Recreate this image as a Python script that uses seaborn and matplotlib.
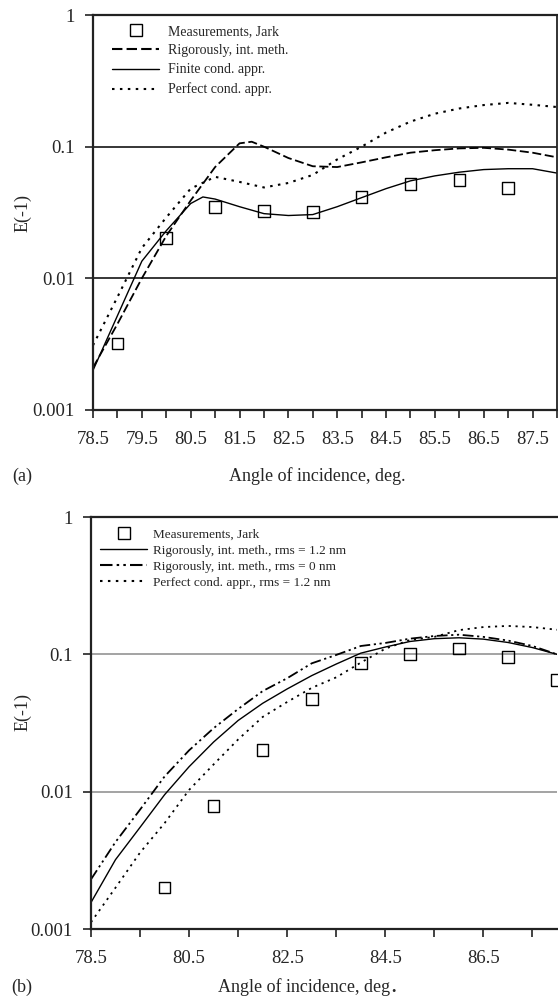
import numpy as np
import pandas as pd
import matplotlib
matplotlib.use('Agg')
import matplotlib.pyplot as plt
from matplotlib.lines import Line2D
import seaborn as sns

# ---- panel (a) data ----
angle = [78.5, 79.0, 79.5, 80.0, 80.5, 81.0, 81.5, 82.0, 82.5, 83.0,
         83.5, 84.0, 84.5, 85.0, 85.5, 86.0, 86.5, 87.0, 87.5, 88.0]

a_meas_x = [79, 80, 81, 82, 83, 84, 85, 86, 87]
a_meas_y = [0.0032, 0.0203, 0.0348, 0.0325, 0.0318, 0.0415, 0.052, 0.0558, 0.0486]

a_rig_x = [78.5, 79.0, 79.5, 80.0, 80.5, 81.0, 81.5, 81.75, 82.0, 82.5, 83.0,
           83.5, 84.0, 84.5, 85.0, 85.5, 86.0, 86.5, 87.0, 87.5, 88.0]
a_rig_y = [0.0021, 0.0045, 0.010, 0.021, 0.039, 0.070, 0.106, 0.109, 0.100, 0.082, 0.071,
           0.070, 0.076, 0.083, 0.090, 0.094, 0.097, 0.098, 0.095, 0.090, 0.083]

a_fin_x = [78.5, 79.0, 79.5, 80.0, 80.5, 80.75, 81.0, 81.5, 82.0, 82.5, 83.0,
           83.5, 84.0, 84.5, 85.0, 85.5, 86.0, 86.5, 87.0, 87.5, 88.0]
a_fin_y = [0.0020, 0.0052, 0.0135, 0.023, 0.037, 0.0415, 0.040, 0.035, 0.031, 0.030, 0.0305,
           0.035, 0.041, 0.048, 0.055, 0.060, 0.064, 0.067, 0.068, 0.068, 0.063]

a_per_y = [0.0031, 0.0072, 0.017, 0.029, 0.048, 0.059, 0.054, 0.049, 0.053, 0.061,
           0.080, 0.100, 0.128, 0.155, 0.178, 0.195, 0.207, 0.215, 0.208, 0.200]

# ---- panel (b) data ----
b_meas_x = [80, 81, 82, 83, 84, 85, 86, 87, 88]
b_meas_y = [0.0020, 0.0079, 0.0202, 0.0475, 0.0867, 0.101, 0.110, 0.096, 0.065]

b_rig12_y = [0.00156, 0.0032, 0.0055, 0.0095, 0.0152, 0.023, 0.033, 0.044, 0.056, 0.070,
             0.085, 0.102, 0.113, 0.124, 0.130, 0.132, 0.129, 0.122, 0.112, 0.100]
b_rig0_y = [0.0023, 0.0043, 0.0074, 0.0129, 0.020, 0.029, 0.040, 0.054, 0.067, 0.086,
            0.099, 0.115, 0.121, 0.130, 0.136, 0.139, 0.134, 0.126, 0.115, 0.100]
b_per_y = [0.00112, 0.0020, 0.0036, 0.0059, 0.0103, 0.0158, 0.024, 0.035, 0.045, 0.057,
           0.068, 0.087, 0.110, 0.127, 0.134, 0.150, 0.158, 0.161, 0.158, 0.151]

a_labels = ['Measurements, Jark', 'Rigorously, int. meth.', 'Finite cond. appr.', 'Perfect cond. appr.']
b_labels = ['Measurements, Jark', 'Rigorously, int. meth., rms = 1.2 nm',
            'Rigorously, int. meth., rms = 0 nm', 'Perfect cond. appr., rms = 1.2 nm']

sns.set_style('white')
plt.rcParams['font.family'] = ['Liberation Serif', 'DejaVu Serif']
plt.rcParams['axes.unicode_minus'] = False

DASHED = (0, (5, 2))
DOTTED = (0, (1.2, 2.6))
DASHDOTDOT = (0, (6, 2, 1.2, 2, 1.2, 2))

fig = plt.figure(figsize=(5.58, 9.99), dpi=100)
ax_a = fig.add_axes([93/558, 1 - 410/999, 464/558, 395/999])
ax_b = fig.add_axes([91/558, 1 - 929/999, 466/558, 412/999])


def style_axes(ax, grid_color, xticks, xlabels):
    ax.set_yscale('log')
    ax.set_ylim(0.001, 1)
    ax.set_xlim(78.5, 88.0)
    ax.set_yticks([0.001, 0.01, 0.1, 1])
    ax.set_yticklabels(['0.001', '0.01', '0.1', '1'])
    ax.yaxis.set_minor_locator(matplotlib.ticker.NullLocator())
    ax.set_xticks(xticks)
    ax.set_xticklabels(xlabels)
    for yv in [0.01, 0.1]:
        ax.axhline(yv, color=grid_color, lw=1.1, zorder=0)
    ax.tick_params(axis='x', direction='out', length=6, width=1.2, pad=9,
                   labelsize=13.5, bottom=True, color='#222222')
    ax.tick_params(axis='y', direction='out', length=6, width=1.2, pad=7,
                   labelsize=13.5, left=True, color='#222222')
    for s in ['left', 'bottom', 'top']:
        ax.spines[s].set_linewidth(1.6)
        ax.spines[s].set_color('#222222')
    ax.set_xlabel('')
    ax.set_ylabel('')


# ---- panel (a) ----
sns.lineplot(x=a_rig_x, y=a_rig_y, ax=ax_a, color='black', lw=1.3, linestyle=DASHED)
sns.lineplot(x=a_fin_x, y=a_fin_y, ax=ax_a, color='black', lw=1.0)
sns.lineplot(x=angle, y=a_per_y, ax=ax_a, color='black', lw=1.5, linestyle=DOTTED)
sns.scatterplot(x=a_meas_x, y=a_meas_y, ax=ax_a, marker='s', s=70,
                facecolor='none', edgecolor='black', linewidth=1.0, zorder=5)

xt_a = list(np.arange(78.5, 88.01, 0.5))
xl_a = ['%.1f' % v if (v - 78.5) % 1 == 0 else '' for v in xt_a]
style_axes(ax_a, 'black', xt_a, xl_a)
ax_a.spines['right'].set_linewidth(1.3)
ax_a.spines['right'].set_color('#222222')

h_a = [Line2D([0], [0], marker='s', linestyle='none', mfc='none', mec='black', ms=8.5, mew=1.0),
       Line2D([0], [0], color='black', lw=1.5, linestyle=DASHED),
       Line2D([0], [0], color='black', lw=1.0),
       Line2D([0], [0], color='black', lw=1.5, linestyle=DOTTED)]
ax_a.legend(h_a, a_labels, loc='upper left', bbox_to_anchor=(0.041, 0.975), frameon=False,
            borderaxespad=0, borderpad=0, handlelength=3.4, handletextpad=0.6,
            labelspacing=0.45, fontsize=10)

# ---- panel (b) ----
sns.lineplot(x=angle, y=b_rig12_y, ax=ax_b, color='black', lw=1.0)
sns.lineplot(x=angle, y=b_rig0_y, ax=ax_b, color='black', lw=1.3, linestyle=DASHDOTDOT)
sns.lineplot(x=angle, y=b_per_y, ax=ax_b, color='black', lw=1.3, linestyle=DOTTED)
sns.scatterplot(x=b_meas_x, y=b_meas_y, ax=ax_b, marker='s', s=70,
                facecolor='none', edgecolor='black', linewidth=1.0, zorder=5, clip_on=False)

xt_b = list(np.arange(78.5, 88.01, 1.0))
xl_b = ['%.1f' % v if (v - 78.5) % 2 == 0 else '' for v in xt_b]
style_axes(ax_b, '#8a8a8a', xt_b, xl_b)
ax_b.spines['right'].set_visible(False)

h_b = [Line2D([0], [0], marker='s', linestyle='none', mfc='none', mec='black', ms=8.5, mew=1.0),
       Line2D([0], [0], color='black', lw=1.0),
       Line2D([0], [0], color='black', lw=1.5, linestyle=DASHDOTDOT),
       Line2D([0], [0], color='black', lw=1.5, linestyle=DOTTED)]
ax_b.legend(h_b, b_labels, loc='upper left', bbox_to_anchor=(0.019, 0.973), frameon=False,
            borderaxespad=0, borderpad=0, handlelength=3.6, handletextpad=0.4,
            labelspacing=0.3, fontsize=9.5)

# ---- outer labels ----
fig.text(23/558, 1 - 213/999, 'E(-1)', rotation=90, ha='center', va='center', fontsize=13)
fig.text(23/558, 1 - 712/999, 'E(-1)', rotation=90, ha='center', va='center', fontsize=13)
fig.text(22/558, 1 - 476/999, '(a)', ha='center', va='center', fontsize=13)
fig.text(317/558, 1 - 476/999, 'Angle of incidence, deg.', ha='center', va='center', fontsize=13)
fig.text(22/558, 1 - 987/999, '(b)', ha='center', va='center', fontsize=13)
fig.text(390/558, 1 - 987/999, 'Angle of incidence, deg', ha='right', va='center', fontsize=13)
fig.text(391.5/558, 1 - 987/999, '.', ha='left', va='center', fontsize=13, fontweight='bold')

fig.savefig('out.png', dpi=100)
